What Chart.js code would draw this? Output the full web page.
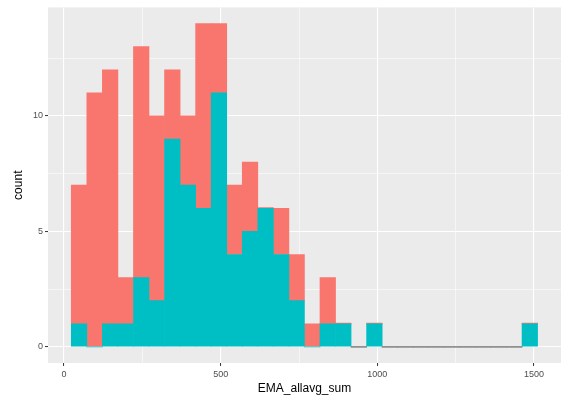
<!DOCTYPE html>
<html>
<head>
<meta charset="utf-8">
<script src="https://cdn.jsdelivr.net/npm/chart.js@4/dist/chart.umd.min.js"></script>
<style>
    body { margin: 0; background: #ffffff; }
</style>
</head>
<body>
<canvas id="myChart" width="561" height="400"></canvas>
<script>
// bin centres of the histogram (EMA_allavg_sum)
const binCenters = [48.1, 97.7, 147.3, 196.9, 246.5, 296.1, 345.7, 395.3, 444.9, 494.5,
    544.1, 593.7, 643.3, 692.9, 742.5, 792.1, 841.7, 891.3, 940.9, 990.5,
    1040.1, 1089.7, 1139.3, 1188.9, 1238.5, 1288.1, 1337.7, 1387.3, 1436.9, 1486.5];

// counts per group (teal is stacked at the bottom)
const tealCounts = [1, 0, 1, 1, 3, 2, 9, 7, 6, 11, 4, 5, 6, 4, 2, 0, 1, 1, 0, 1,
    0, 0, 0, 0, 0, 0, 0, 0, 0, 1];
const redCounts = [6, 11, 11, 2, 10, 8, 3, 3, 8, 3, 3, 3, 0, 2, 2, 1, 2, 0, 0, 0,
    0, 0, 0, 0, 0, 0, 0, 0, 0, 0];

const xTicks = [0, 250, 500, 750, 1000, 1250, 1500];
const yTicks = [0, 2.5, 5, 7.5, 10, 12.5];

const isMajorX = v => v % 500 === 0;
const isMajorY = v => v % 5 === 0;

const panelBg = {
    id: 'panelBg',
    beforeDraw(chart) {
        const a = chart.chartArea;
        const c = chart.ctx;
        c.save();
        c.fillStyle = '#EBEBEB';
        c.fillRect(a.left, a.top, a.right - a.left, a.bottom - a.top);
        c.restore();
    }
};

const ctx = document.getElementById('myChart');
new Chart(ctx, {
    type: 'bar',
    data: {
        datasets: [{
            label: 'teal',
            data: binCenters.map((x, i) => ({ x: x, y: tealCounts[i] })),
            backgroundColor: '#00BFC4',
            borderWidth: 0
        }, {
            label: 'red',
            data: binCenters.map((x, i) => ({ x: x, y: redCounts[i] })),
            backgroundColor: '#F8766D',
            borderWidth: 0,
            minBarLength: 1.2
        }]
    },
    options: {
        responsive: false,
        animation: false,
        devicePixelRatio: 1,
        barPercentage: 1,
        categoryPercentage: 1,
        layout: { padding: { top: 7.4, right: 0, left: 0, bottom: 0 } },
        plugins: {
            legend: { display: false },
            tooltip: { enabled: false }
        },
        scales: {
            x: {
                type: 'linear',
                stacked: true,
                offset: false,
                min: -51,
                max: 1586,
                afterBuildTicks: scale => { scale.ticks = xTicks.map(v => ({ value: v })); },
                afterFit: scale => { scale.height = 37; },
                border: { display: false },
                grid: {
                    offset: false,
                    color: '#FFFFFF',
                    lineWidth: c => isMajorX(c.tick.value) ? 1.1 : 0.55,
                    tickLength: 3,
                    tickWidth: 1,
                    tickColor: c => isMajorX(c.tick.value) ? '#333333' : 'rgba(0,0,0,0)'
                },
                ticks: {
                    autoSkip: false,
                    maxRotation: 0,
                    padding: 3,
                    color: '#4D4D4D',
                    font: { family: '"Liberation Sans", Arial, sans-serif', size: 9 },
                    callback: v => isMajorX(v) ? String(v) : ''
                },
                title: {
                    display: true,
                    text: 'EMA_allavg_sum',
                    color: '#000000',
                    padding: { top: 0, bottom: 4 },
                    font: { family: '"Liberation Sans", Arial, sans-serif', size: 12 }
                }
            },
            y: {
                stacked: true,
                min: -0.7,
                max: 14.7,
                afterBuildTicks: scale => { scale.ticks = yTicks.map(v => ({ value: v })); },
                afterFit: scale => { scale.width = 48; },
                border: { display: false },
                grid: {
                    color: '#FFFFFF',
                    lineWidth: c => isMajorY(c.tick.value) ? 1.1 : 0.55,
                    tickLength: 3,
                    tickWidth: 1,
                    tickColor: c => isMajorY(c.tick.value) ? '#333333' : 'rgba(0,0,0,0)'
                },
                ticks: {
                    autoSkip: false,
                    padding: 2,
                    color: '#4D4D4D',
                    font: { family: '"Liberation Sans", Arial, sans-serif', size: 9 },
                    callback: v => isMajorY(v) ? String(v) : ''
                },
                title: {
                    display: true,
                    text: 'count',
                    color: '#000000',
                    padding: { top: 11, bottom: 0 },
                    font: { family: '"Liberation Sans", Arial, sans-serif', size: 12 }
                }
            }
        }
    },
    plugins: [panelBg]
});
</script>
</body>
</html>
